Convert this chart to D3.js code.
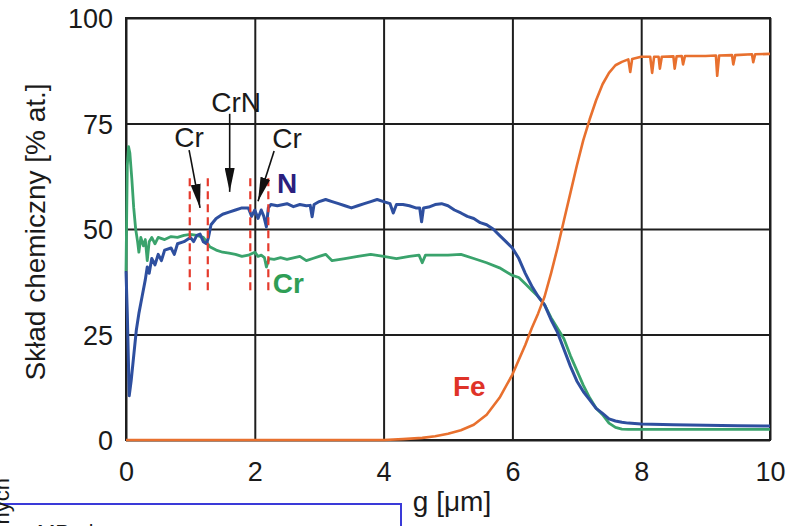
<!DOCTYPE html>
<html>
<head>
<meta charset="utf-8">
<script src="https://cdn.jsdelivr.net/npm/d3@7"></script>
<style>
  html, body { margin: 0; padding: 0; background: #fff; }
  svg { display: block; font-family: "Liberation Sans", Arial, Helvetica, sans-serif; }
</style>
</head>
<body>
<svg id="chart" width="794" height="526"></svg>
<script>
// Depth profile: chemical composition [% at.] vs depth g [µm]
const xTicks = [0, 2, 4, 6, 8, 10];
const yTicks = [0, 25, 50, 75, 100];

// Nitrogen
const nDepth = [0, 0.02, 0.05, 0.08, 0.12, 0.16, 0.2, 0.25, 0.3, 0.33, 0.36, 0.4, 0.45, 0.5, 0.55, 0.6, 0.7, 0.75, 0.8, 0.9,
  1.0, 1.05, 1.1, 1.15, 1.2, 1.25, 1.28, 1.32, 1.4, 1.5, 1.6, 1.7, 1.8, 1.9, 1.95, 2.0, 2.05, 2.1, 2.14, 2.18,
  2.21, 2.25, 2.35, 2.5, 2.6, 2.7, 2.8, 2.86, 2.89, 2.92, 3.0, 3.1, 3.2, 3.3, 3.4, 3.5, 3.6, 3.7, 3.8, 3.9,
  4.0, 4.1, 4.15, 4.2, 4.3, 4.4, 4.5, 4.56, 4.59, 4.62, 4.7, 4.8, 4.9, 5.0, 5.1, 5.2, 5.3, 5.4, 5.5, 5.6,
  5.7, 5.8, 5.9, 6.0, 6.1, 6.2, 6.3, 6.4, 6.5, 6.6, 6.7, 6.8, 6.9, 7.0, 7.1, 7.2, 7.3, 7.4, 7.5, 7.6,
  7.7, 7.8, 8.0, 8.5, 9.0, 9.5, 10];
const nValues = [40, 30, 10.5, 14, 20, 26, 30, 34, 38, 41, 39.5, 43, 41.5, 44, 42.5, 45, 45.5, 44, 46.5, 47,
  48, 47, 48.5, 48.8, 47, 46.5, 48, 51, 52.5, 53.5, 54, 54.5, 55, 55, 53, 54.5, 52.5, 54.5, 53, 50.5,
  55, 55.8, 55.5, 56, 55.3, 55.8, 55.5, 55.6, 52.9, 55.8, 56.5, 57, 56.5, 56, 55.5, 55, 55.5, 56, 56.5, 57,
  56.5, 56, 53.8, 55.8, 55.8, 55.5, 55, 55, 51.7, 55, 55.2, 55.8, 56, 55.5, 54.5, 53.8, 53, 52.5, 51.5, 51,
  50, 48.5, 47, 45.5, 43, 39.5, 36.5, 34, 32, 28.5, 25.5, 21.5, 17.5, 14, 11.5, 9.5, 7.5, 6.3, 5, 4.5,
  4.2, 4, 3.8, 3.6, 3.5, 3.4, 3.3];

// Chromium
const crDepth = [0, 0.02, 0.04, 0.06, 0.09, 0.12, 0.15, 0.18, 0.2, 0.23, 0.27, 0.3, 0.33, 0.36, 0.4, 0.45, 0.5, 0.6, 0.7, 0.8,
  0.9, 1.0, 1.1, 1.2, 1.25, 1.3, 1.4, 1.5, 1.6, 1.7, 1.8, 1.9, 2.0, 2.05, 2.1, 2.15, 2.18, 2.22, 2.3, 2.4,
  2.5, 2.7, 2.8, 2.9, 3.0, 3.1, 3.2, 3.4, 3.6, 3.8, 4.0, 4.2, 4.4, 4.55, 4.6, 4.65, 4.8, 5.0, 5.2, 5.4,
  5.6, 5.8, 6.0, 6.1, 6.2, 6.3, 6.4, 6.5, 6.6, 6.7, 6.8, 6.9, 7.0, 7.1, 7.2, 7.3, 7.4, 7.5, 7.6, 7.7,
  7.8, 8.0, 10];
const crValues = [40, 65, 69.5, 68, 62, 55, 50, 47, 44.5, 48, 46, 47.5, 42.5, 47, 48, 46.5, 48, 47.5, 48.2, 48,
  48.5, 48.7, 48.5, 48, 47, 45.8, 45, 44.5, 44.3, 44, 43.5, 43.8, 44.5, 43.5, 43.8, 43.2, 41, 43, 42.8, 43.2,
  42.8, 43.5, 42.5, 43, 43.5, 44, 42.5, 43, 43.5, 44, 43.5, 43, 43.5, 43.8, 42, 43.8, 43.8, 43.8, 44, 43,
  42, 40.8, 39, 38.5, 37, 35.5, 34, 32, 29, 26.5, 24, 20, 16.5, 13, 10, 7.5, 6, 4, 3, 2.6,
  2.5, 2.5, 2.5];

// Iron
const feDepth = [0, 4.0, 4.3, 4.6, 4.8, 5.0, 5.2, 5.4, 5.6, 5.8, 6.0, 6.1, 6.2, 6.3, 6.4, 6.5, 6.6, 6.7, 6.8, 6.9,
  7.0, 7.1, 7.2, 7.3, 7.4, 7.5, 7.6, 7.7, 7.8, 7.83, 7.86, 8.0, 8.14, 8.17, 8.2, 8.27, 8.29, 8.32, 8.5, 8.52,
  8.55, 8.63, 8.65, 8.68, 9.0, 9.16, 9.18, 9.21, 9.41, 9.43, 9.46, 9.72, 9.74, 9.77, 10];
const feValues = [0, 0, 0.2, 0.5, 0.9, 1.5, 2.3, 3.6, 6, 10, 15.5, 19, 22.5, 26.5, 30, 34, 39.5, 45.5, 52, 58.5,
  65, 71, 76, 80.5, 84.3, 87, 88.8, 89.6, 90.2, 87.2, 90.3, 90.8, 90.8, 87, 90.8, 90.8, 88, 90.8, 90.9, 88,
  90.9, 91, 89, 91, 91, 91.1, 86.3, 91.1, 91.2, 89, 91.2, 91.4, 89.5, 91.4, 91.5];

// Layer boundaries (dashed) and annotations
const boundaryDepths = [0.99, 1.27, 1.93, 2.21];
const boundaryRange = [35.5, 62];
const phaseLabels = [
  { text: "Cr",  x: 0.98, y: 69.4, from: [0.98, 68.7], to: [1.15, 55.0] },
  { text: "CrN", x: 1.71, y: 77.7, from: [1.61, 77.3], to: [1.61, 58.8] },
  { text: "Cr",  x: 2.50, y: 69.2, from: [2.30, 68.5], to: [2.05, 56.6] }
];
const seriesLabels = [
  { text: "N",  x: 2.50, y: 58.5, color: "#2b1f7e" },
  { text: "Cr", x: 2.52, y: 34.8, color: "#2f9e55" },
  { text: "Fe", x: 5.33, y: 10.4, color: "#df3328" }
];

const svg = d3.select("#chart");
const W = 794, H = 526;
const plotLeft = 126, plotRight = 770, plotTop = 18, plotBottom = 440;

const x = d3.scaleLinear().domain([0, 10]).range([plotLeft, plotRight]);
const y = d3.scaleLinear().domain([0, 100]).range([plotBottom, plotTop]);

const gridColor = "#1e1e1e";
const tickFont = 27;
const labelFont = 28;

// Grid via axes
const gx = svg.append("g").attr("transform", `translate(0,${plotBottom})`)
  .call(d3.axisBottom(x).tickValues(xTicks).tickFormat(d3.format("d"))
    .tickSize(-(plotBottom - plotTop)).tickPadding(22));
const gy = svg.append("g").attr("transform", `translate(${plotLeft},0)`)
  .call(d3.axisLeft(y).tickValues(yTicks).tickFormat(d3.format("d"))
    .tickSize(-(plotRight - plotLeft)).tickPadding(13));
[gx, gy].forEach(g => {
  g.select(".domain").remove();
  g.selectAll(".tick line").attr("stroke", gridColor).attr("stroke-width", 2);
  g.selectAll(".tick text").attr("fill", "#1a1a1a").attr("font-size", tickFont)
    .attr("font-family", "\"Liberation Sans\", Arial, sans-serif");
});
gy.selectAll(".tick text").attr("dy", "0.36em");

// Frame
svg.append("rect").attr("x", plotLeft).attr("y", plotTop)
  .attr("width", plotRight - plotLeft).attr("height", plotBottom - plotTop)
  .attr("fill", "none").attr("stroke", gridColor).attr("stroke-width", 2);

// Axis titles
svg.append("text").attr("transform", `translate(45,${(plotTop + plotBottom) / 2 + 3}) rotate(-90)`)
  .attr("text-anchor", "middle").attr("font-size", labelFont).attr("fill", "#1a1a1a")
  .text("Skład chemiczny [% at.]");
svg.append("text").attr("x", 452).attr("y", 511).attr("text-anchor", "middle")
  .attr("font-size", labelFont).attr("fill", "#1a1a1a").text("g [μm]");

// Composition curves
const line = d3.line().x(d => x(d[0])).y(d => y(d[1]));
const series = [
  { depth: crDepth, values: crValues, color: "#3aa36c", width: 2.8 },
  { depth: nDepth, values: nValues, color: "#2e4f9f", width: 3 },
  { depth: feDepth, values: feValues, color: "#e8702e", width: 2.6 }
];
series.forEach(s => {
  svg.append("path").datum(d3.zip(s.depth, s.values))
    .attr("d", line).attr("fill", "none")
    .attr("stroke", s.color).attr("stroke-width", s.width)
    .attr("stroke-linejoin", "round");
});

// Layer boundaries
svg.selectAll(".boundary").data(boundaryDepths).join("line")
  .attr("class", "boundary")
  .attr("x1", d => x(d)).attr("x2", d => x(d))
  .attr("y1", y(boundaryRange[1])).attr("y2", y(boundaryRange[0]))
  .attr("stroke", "#e53a2c").attr("stroke-width", 2.2).attr("stroke-dasharray", "8,5");

// Arrowhead
svg.append("defs").append("marker")
  .attr("id", "head").attr("viewBox", "0 0 24 10").attr("refX", 24).attr("refY", 5)
  .attr("markerUnits", "userSpaceOnUse").attr("markerWidth", 24).attr("markerHeight", 10)
  .attr("orient", "auto")
  .append("path").attr("d", "M0,0 L24,5 L0,10 Z").attr("fill", "#111");

phaseLabels.forEach(p => {
  svg.append("text").attr("x", x(p.x)).attr("y", y(p.y)).attr("text-anchor", "middle")
    .attr("font-size", labelFont).attr("fill", "#1a1a1a").text(p.text);
  svg.append("line")
    .attr("x1", x(p.from[0])).attr("y1", y(p.from[1]))
    .attr("x2", x(p.to[0])).attr("y2", y(p.to[1]))
    .attr("stroke", "#111").attr("stroke-width", 1.6).attr("marker-end", "url(#head)");
});

seriesLabels.forEach(l => {
  svg.append("text").attr("x", x(l.x)).attr("y", y(l.y)).attr("text-anchor", "middle")
    .attr("font-size", labelFont).attr("font-weight", "bold").attr("fill", l.color).text(l.text);
});

// Neighbouring panel edge below
svg.append("path").attr("d", `M0,504 H401 V${H}`)
  .attr("fill", "none").attr("stroke", "#3a3ad8").attr("stroke-width", 2);
svg.append("text").attr("x", 37).attr("y", 540).attr("font-size", 22).attr("fill", "#1a1a1a").text("MPa |");
svg.append("text").attr("transform", "translate(9,478) rotate(-90)").attr("text-anchor", "end")
  .attr("font-size", 22).attr("fill", "#1a1a1a").text("nych");
</script>
</body>
</html>
